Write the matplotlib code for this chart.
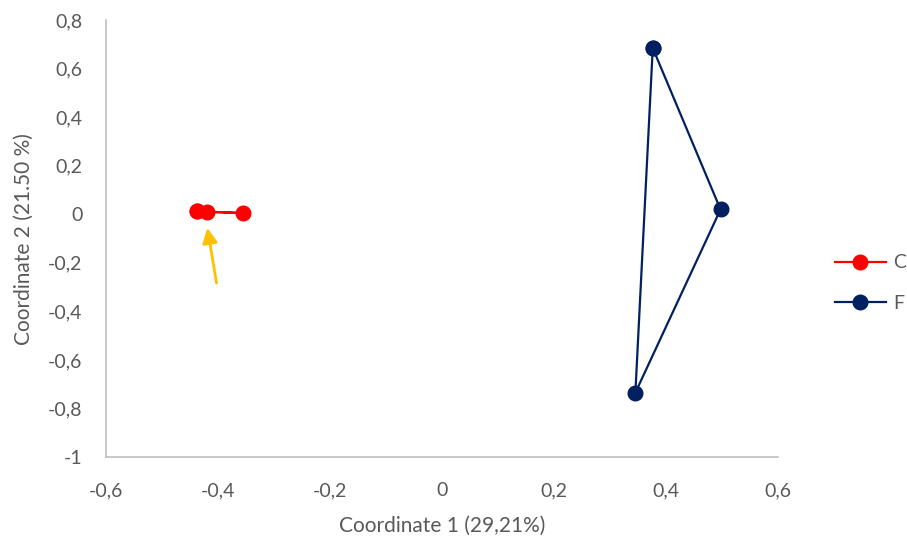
import matplotlib.pyplot as plt
from matplotlib.ticker import FixedLocator, FuncFormatter

# group C (convex hull, closed)
c_x = [-0.438, -0.420, -0.356, -0.438]
c_y = [0.012, 0.011, 0.005, 0.012]

# group F (convex hull, closed)
f_x = [0.376, 0.497, 0.345, 0.376]
f_y = [0.685, 0.020, -0.735, 0.685]

# arrow pointing at the C cluster
arrow_tail = (-0.402, -0.295)
arrow_head = (-0.420, -0.045)

x_ticks = [-0.6, -0.4, -0.2, 0, 0.2, 0.4, 0.6]
y_ticks = [-1, -0.8, -0.6, -0.4, -0.2, 0, 0.2, 0.4, 0.6, 0.8]

grey = "#595959"
plt.rcParams['font.family'] = ['Lato', 'DejaVu Sans']


def comma_fmt(v, pos):
    s = "{:g}".format(round(v, 2))
    return s.replace(".", ",")


fig = plt.figure(figsize=(9.07, 5.45), dpi=100)
ax = fig.add_axes([0.117, 0.1615, 0.741, 0.8015])

ax.plot(c_x, c_y, color="#FF0000", lw=1.6, marker="o", ms=10.5, label="C")
ax.plot(f_x, f_y, color="#002060", lw=1.6, marker="o", ms=10.5, label="F")

ax.annotate("", xy=arrow_head, xytext=arrow_tail,
            arrowprops=dict(arrowstyle="-|>,head_length=0.9,head_width=0.45",
                            color="#FFC000", lw=2))

ax.set_xlim(-0.6, 0.6)
ax.set_ylim(-1, 0.8)
ax.xaxis.set_major_locator(FixedLocator(x_ticks))
ax.yaxis.set_major_locator(FixedLocator(y_ticks))
ax.xaxis.set_major_formatter(FuncFormatter(comma_fmt))
ax.yaxis.set_major_formatter(FuncFormatter(comma_fmt))
ax.tick_params(length=0, labelsize=14, labelcolor=grey)
ax.tick_params(axis="x", pad=18)
ax.tick_params(axis="y", pad=17)

for side in ("top", "right"):
    ax.spines[side].set_visible(False)
for side in ("left", "bottom"):
    ax.spines[side].set_color("#BFBFBF")
    ax.spines[side].set_linewidth(1.2)

ax.set_xlabel("Coordinate 1 (29,21%)", fontsize=15, color=grey, labelpad=12)
ax.set_ylabel("Coordinate 2 (21.50 %)", fontsize=15, color=grey, labelpad=10)

fig.legend(loc="center left", bbox_to_anchor=(835 / 907, 1 - 283 / 545),
           bbox_transform=fig.transFigure, frameon=False, borderpad=0,
           borderaxespad=0, fontsize=14, labelcolor=grey, handlelength=2.6,
           labelspacing=1.2, handletextpad=0.4)

fig.savefig("out.png")
